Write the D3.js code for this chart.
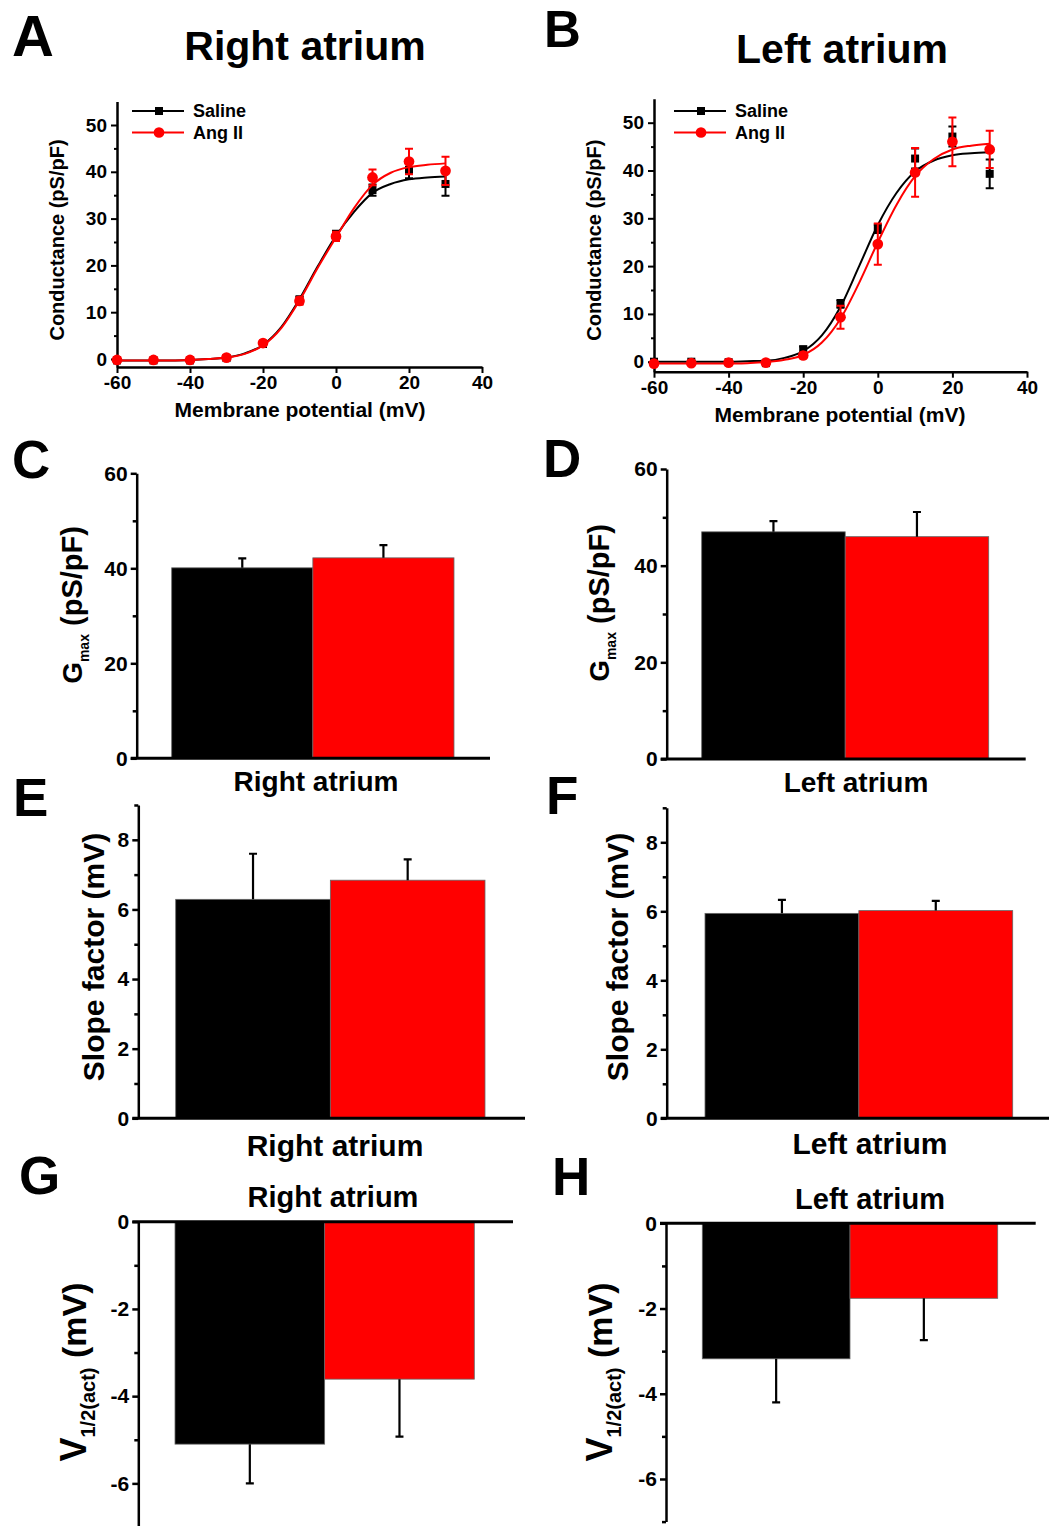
<!DOCTYPE html>
<html>
<head>
<meta charset="utf-8">
<script src="https://cdn.jsdelivr.net/npm/d3@7"></script>
<style>
  body { margin: 0; background: #fff; }
  svg text { font-family: Arial, "Liberation Sans", sans-serif; font-weight: bold; fill: #000; }
  .axis path, .axis line { stroke: #000; }
</style>
</head>
<body>
<svg width="1049" height="1526"></svg>
<script>
//Test potentials (mV) for the conductance-voltage points.
var voltages = [-60, -50, -40, -30, -20, -10, 0, 10, 20, 30];
//Right atrium, mean and SEM (pS/pF).
var raSaline = [-0.3, -0.3, -0.3, 0.2, 3.2, 12.6, 26.4, 36.1, 40.4, 37.4];
var raSalineErr = [0.2, 0.2, 0.2, 0.3, 0.5, 0.8, 1.0, 1.2, 1.8, 2.5];
var raAng = [-0.2, -0.2, -0.2, 0.3, 3.4, 12.4, 26.2, 38.8, 42.2, 40.2];
var raAngErr = [0.2, 0.2, 0.2, 0.3, 0.5, 0.8, 1.0, 1.7, 2.7, 3.0];
//Left atrium, mean and SEM (pS/pF).
var laSaline = [0.0, 0.0, -0.1, -0.3, 2.6, 12.1, 27.8, 42.5, 47.1, 39.3];
var laSalineErr = [0.2, 0.2, 0.2, 0.3, 0.6, 0.8, 0.9, 2.1, 2.1, 3.0];
var laAng = [-0.4, -0.3, -0.2, -0.2, 1.3, 9.3, 24.6, 39.6, 46.0, 44.4];
var laAngErr = [0.2, 0.2, 0.2, 0.3, 0.6, 2.4, 4.3, 5.1, 5.1, 3.9];
//Boltzmann fit curves, every 5 mV.
var fitV = [-60, -55, -50, -45, -40, -35, -30, -25, -20, -15, -10, -5, 0, 5, 10, 15, 20, 25, 30];
var raSalineFit = [-0.3, -0.3, -0.3, -0.3, -0.2, 0.0, 0.3, 1.2, 3.0, 6.8, 12.8, 19.8, 26.3, 31.5, 35.5, 37.4, 38.4, 38.8, 39.0];
var raAngFit = [-0.3, -0.3, -0.3, -0.3, -0.2, 0.0, 0.3, 1.1, 2.9, 6.6, 12.5, 19.5, 26.0, 32.3, 37.2, 39.8, 41.0, 41.5, 41.8];
var laSalineFit = [0.0, 0.0, 0.0, 0.0, 0.0, 0.1, 0.2, 0.8, 2.2, 5.5, 11.5, 20.0, 28.6, 35.3, 39.8, 42.1, 43.2, 43.6, 43.8];
var laAngFit = [-0.4, -0.4, -0.4, -0.4, -0.4, -0.3, -0.1, 0.4, 1.4, 4.0, 9.0, 16.5, 25.0, 32.8, 38.8, 42.4, 44.4, 45.2, 45.6];
var xTicks = [-60, -40, -20, 0, 20, 40];
var gTicks = [0, 10, 20, 30, 40, 50];

//Bar chart groups and values.
var groups = ['Saline', 'Ang II'];
var colors = ['#000000', '#ff0000'];
var gmaxRA = [40.1, 42.2], gmaxRAErr = [2.0, 2.7];
var gmaxLA = [47.0, 46.0], gmaxLAErr = [2.2, 5.1];
var slopeRA = [6.29, 6.84], slopeRAErr = [1.31, 0.6];
var slopeLA = [5.94, 6.02], slopeLAErr = [0.39, 0.28];
var vhalfRA = [-5.10, -3.61], vhalfRAErr = [0.90, 1.32];
var vhalfLA = [-3.18, -1.76], vhalfLAErr = [1.02, 0.98];

var svg = d3.select('svg');
//Plain hyphen minus, no trailing decimals.
var plain = function(d) { return String(d); };

function zip(xs, ys, es) {
	return xs.map(function(x, i) { return {x: x, y: ys[i], e: es ? es[i] : 0}; });
}

//Rotated y label with an optional subscript.
function yLabel(x, y, parts) {
	var t = svg.append('text')
		.attr('transform', 'translate(' + x + ',' + y + ') rotate(-90)')
		.attr('text-anchor', 'middle');
	parts.forEach(function(p) {
		var ts = t.append('tspan').text(p.text).style('font-size', p.size + 'px');
		if (p.sub) ts.attr('dy', p.sub);
	});
	return t;
}

//Conductance-voltage panel.
function ivPanel(o) {
	var x = d3.scaleLinear().domain([-60, 40]).range(o.xr);
	var y = d3.scaleLinear().domain([0, 50]).range(o.yr);
	var yMin = y.invert(o.yBottom), yMax = 55;

	var ax = svg.append('g').attr('class', 'axis')
		.attr('transform', 'translate(0,' + o.yBottom + ')')
		.call(d3.axisBottom(x).tickValues(xTicks).tickFormat(plain).tickSize(6).tickSizeOuter(0).tickPadding(3));
	ax.select('.domain').attr('stroke-width', 2.5);
	ax.selectAll('.tick line').attr('stroke-width', 2);
	ax.selectAll('text').style('font-size', '19px');

	var ay = svg.append('g').attr('class', 'axis')
		.attr('transform', 'translate(' + o.xr[0] + ',0)')
		.call(d3.axisLeft(y.copy().domain([yMin, yMax]).range([o.yBottom, y(yMax)])).tickValues(gTicks).tickFormat(plain).tickSize(6).tickSizeOuter(0).tickPadding(4));
	ay.select('.domain').attr('stroke-width', 2.5);
	ay.selectAll('.tick line').attr('stroke-width', 2);
	ay.selectAll('text').style('font-size', '19px');
	svg.append('g').attr('class', 'axis')
		.attr('transform', 'translate(' + o.xr[0] + ',0)')
		.call(d3.axisLeft(y).tickValues([5, 15, 25, 35, 45]).tickSize(3).tickFormat(''))
		.call(function(g) { g.select('.domain').remove(); g.selectAll('line').attr('stroke-width', 2); });

	var line = d3.line().x(function(d) { return x(d.x); }).y(function(d) { return y(d.y); }).curve(d3.curveMonotoneX);

	o.series.forEach(function(s) {
		var g = svg.append('g');
		g.append('path').datum(zip(fitV, s.fit))
			.attr('d', line).attr('fill', 'none').attr('stroke', s.color).attr('stroke-width', 2);
		var pts = zip(voltages, s.vals, s.errs);
		g.selectAll('.eb').data(pts).enter().append('path')
			.attr('d', function(d) {
				var xx = x(d.x), y1 = y(d.y + d.e), y2 = y(d.y - d.e);
				return 'M' + xx + ',' + y1 + 'V' + y2 + 'M' + (xx - 4) + ',' + y1 + 'H' + (xx + 4) + 'M' + (xx - 4) + ',' + y2 + 'H' + (xx + 4);
			})
			.attr('stroke', s.color).attr('stroke-width', 2).attr('fill', 'none');
		g.selectAll('.pt').data(pts).enter().append('path')
			.attr('transform', function(d) { return 'translate(' + x(d.x) + ',' + y(d.y) + ')'; })
			.attr('d', d3.symbol().type(s.symbol).size(s.symbolSize))
			.attr('fill', s.color);
	});

	//Legend.
	o.series.forEach(function(s, i) {
		var ly = o.legend[1] + i * 21.5;
		svg.append('line').attr('x1', o.legend[0]).attr('x2', o.legend[0] + 52)
			.attr('y1', ly).attr('y2', ly).attr('stroke', s.color).attr('stroke-width', 2);
		svg.append('path').attr('transform', 'translate(' + (o.legend[0] + 27) + ',' + ly + ')')
			.attr('d', d3.symbol().type(s.symbol).size(s.symbolSize)).attr('fill', s.color);
		svg.append('text').attr('x', o.legend[0] + 61).attr('y', ly + 6)
			.style('font-size', '18px').text(s.name);
	});

	svg.append('text').attr('x', o.xlabX).attr('y', o.yBottom + 50)
		.attr('text-anchor', 'middle').style('font-size', '21px').text('Membrane potential (mV)');
	yLabel(o.ylx, (o.yr[0] + o.yr[1]) / 2 - 2, [{text: 'Conductance (pS/pF)', size: 20}]);
}

//Two-bar panel with one-sided error bars.
function barPanel(o) {
	var y = d3.scaleLinear().domain(o.domain).range(o.yr);
	var x = d3.scaleBand().domain(groups).range(o.bars).padding(0);
	var y0 = y(0);
	var data = groups.map(function(g, i) { return {g: g, v: o.vals[i], e: o.errs[i], c: colors[i]}; });

	svg.selectAll(null).data(data).enter().append('rect')
		.attr('x', function(d) { return x(d.g); })
		.attr('width', x.bandwidth())
		.attr('y', function(d) { return Math.min(y(d.v), y0); })
		.attr('height', function(d) { return Math.abs(y(d.v) - y0); })
		.attr('fill', function(d) { return d.c; })
		.attr('stroke', '#666').attr('stroke-width', 0.8);
	svg.selectAll(null).data(data).enter().append('path')
		.attr('d', function(d) {
			var xx = x(d.g) + x.bandwidth() / 2, sgn = d.v < 0 ? -1 : 1;
			var ya = y(d.v), yb = y(d.v + sgn * d.e);
			return 'M' + xx + ',' + ya + 'V' + yb + 'M' + (xx - 4) + ',' + yb + 'H' + (xx + 4);
		})
		.attr('stroke', '#000').attr('stroke-width', 2.2).attr('fill', 'none');

	var ay = svg.append('g').attr('class', 'axis')
		.attr('transform', 'translate(' + o.axisX[0] + ',0)')
		.call(d3.axisLeft(y).tickValues(o.ticks).tickFormat(plain).tickSize(6).tickSizeOuter(0).tickPadding(3));
	ay.select('.domain').attr('stroke-width', 2.5);
	ay.selectAll('.tick line').attr('stroke-width', 2.5);
	ay.selectAll('text').style('font-size', '21px');
	svg.append('g').attr('class', 'axis')
		.attr('transform', 'translate(' + o.axisX[0] + ',0)')
		.call(d3.axisLeft(y).tickValues(o.minor).tickSize(4).tickFormat(''))
		.call(function(g) { g.select('.domain').remove(); g.selectAll('line').attr('stroke-width', 2.5); });
	svg.append('line').attr('x1', o.axisX[0] - 6).attr('x2', o.axisX[1])
		.attr('y1', y0).attr('y2', y0).attr('stroke', '#000').attr('stroke-width', 3);

	svg.append('text').attr('x', o.cat[0]).attr('y', o.cat[1])
		.attr('text-anchor', 'middle').style('font-size', o.catSize + 'px').text(o.catText);
	yLabel(o.yl[0], o.yl[1], o.ylabel);
}

//Panel letters and column titles.
[['A', 12, 56, 58], ['B', 544, 47, 51], ['C', 12, 478, 53], ['D', 543, 477, 53],
 ['E', 13, 816, 53], ['F', 546, 814, 53], ['G', 19, 1194, 53], ['H', 552, 1195, 53]]
	.forEach(function(l) {
		svg.append('text').attr('x', l[1]).attr('y', l[2]).style('font-size', l[3] + 'px').text(l[0]);
	});
svg.append('text').attr('x', 305).attr('y', 60).attr('text-anchor', 'middle').style('font-size', '41px').text('Right atrium');
svg.append('text').attr('x', 842).attr('y', 63).attr('text-anchor', 'middle').style('font-size', '41px').text('Left atrium');

ivPanel({xr: [117, 482], yr: [359, 125], yBottom: 367, ylx: 64, legend: [132, 111], xlabX: 300,
	series: [
		{name: 'Saline', color: '#000', symbol: d3.symbolSquare, symbolSize: 64, vals: raSaline, errs: raSalineErr, fit: raSalineFit},
		{name: 'Ang II', color: '#ff0000', symbol: d3.symbolCircle, symbolSize: 90, vals: raAng, errs: raAngErr, fit: raAngFit}
	]});
ivPanel({xr: [654, 1027], yr: [361.7, 122.7], yBottom: 371.7, ylx: 601, legend: [674, 111], xlabX: 840,
	series: [
		{name: 'Saline', color: '#000', symbol: d3.symbolSquare, symbolSize: 64, vals: laSaline, errs: laSalineErr, fit: laSalineFit},
		{name: 'Ang II', color: '#ff0000', symbol: d3.symbolCircle, symbolSize: 90, vals: laAng, errs: laAngErr, fit: laAngFit}
	]});

var gmaxLabel = [{text: 'G', size: 28}, {text: 'max', size: 14, sub: 7}, {text: '\u00a0(pS/pF)', size: 29, sub: -7}];
var vhalfLabel = [{text: 'V', size: 36}, {text: '1/2(act)', size: 20, sub: 9}, {text: '\u00a0(mV)', size: 34, sub: -9}];

barPanel({domain: [0, 60], yr: [758.3, 473.3], bars: [171.7, 454], axisX: [136.7, 490],
	vals: gmaxRA, errs: gmaxRAErr, ticks: [0, 20, 40, 60], minor: [10, 30, 50],
	cat: [316, 791], catText: 'Right atrium', catSize: 28, yl: [82, 605], ylabel: gmaxLabel});
barPanel({domain: [0, 60], yr: [759, 469], bars: [701.7, 988.7], axisX: [666.7, 1025.7],
	vals: gmaxLA, errs: gmaxLAErr, ticks: [0, 20, 40, 60], minor: [10, 30, 50],
	cat: [856, 792], catText: 'Left atrium', catSize: 28, yl: [609, 603], ylabel: gmaxLabel});
barPanel({domain: [0, 9], yr: [1118.3, 805], bars: [175.7, 485], axisX: [138.3, 525],
	vals: slopeRA, errs: slopeRAErr, ticks: [0, 2, 4, 6, 8], minor: [1, 3, 5, 7, 9],
	cat: [335, 1156], catText: 'Right atrium', catSize: 30, yl: [104, 957], ylabel: [{text: 'Slope factor (mV)', size: 30}]});
barPanel({domain: [0, 9], yr: [1118.3, 807.8], bars: [705, 1012.7], axisX: [666.7, 1049],
	vals: slopeLA, errs: slopeLAErr, ticks: [0, 2, 4, 6, 8], minor: [1, 3, 5, 7, 9],
	cat: [870, 1154], catText: 'Left atrium', catSize: 30, yl: [628, 957], ylabel: [{text: 'Slope factor (mV)', size: 30}]});
barPanel({domain: [-7, 0], yr: [1527, 1221.7], bars: [175, 474.3], axisX: [138.3, 513],
	vals: vhalfRA, errs: vhalfRAErr, ticks: [0, -2, -4, -6], minor: [-1, -3, -5, -7],
	cat: [333, 1207], catText: 'Right atrium', catSize: 29, yl: [86, 1372], ylabel: vhalfLabel});
barPanel({domain: [-7, 0], yr: [1521.6, 1223.3], bars: [702.3, 997.7], axisX: [666, 1035.7],
	vals: vhalfLA, errs: vhalfLAErr, ticks: [0, -2, -4, -6], minor: [-1, -3, -5, -7],
	cat: [870, 1209], catText: 'Left atrium', catSize: 29, yl: [612, 1372], ylabel: vhalfLabel});
</script>
</body>
</html>
